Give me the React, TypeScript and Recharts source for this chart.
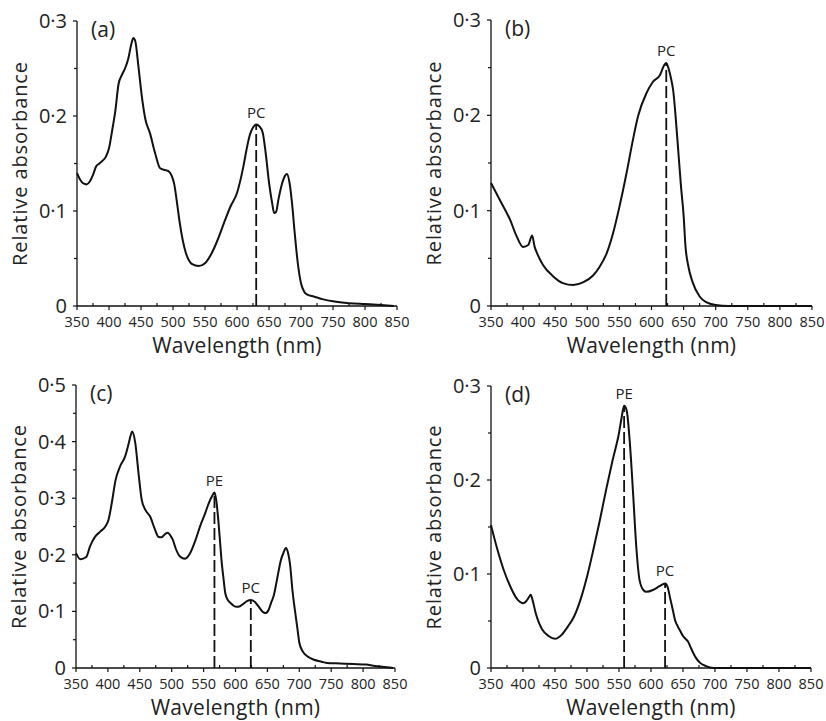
import React from "react";
import {
  Line,
  LineChart,
  ReferenceDot,
  ReferenceLine,
  XAxis,
  YAxis,
} from "recharts";

const FONT = "'Open Sans', 'Noto Sans', sans-serif";
const INK = "#111";

// (a)
const waveA = [350, 355, 360, 365, 370, 375, 380, 385, 390, 395, 400, 405, 410, 415, 420, 425, 430, 435, 438, 441, 446, 452, 457, 464, 472, 480, 488, 493, 498, 502, 506, 510, 515, 520, 525, 530, 540, 550, 560, 570, 580, 590, 600, 610, 615, 620, 625, 630, 635, 640, 645, 650, 655, 658, 661, 665, 670, 675, 678, 682, 686, 690, 695, 700, 705, 710, 720, 735, 750, 775, 800, 825, 845];
const absA = [0.14, 0.133, 0.129, 0.128, 0.131, 0.138, 0.147, 0.15, 0.153, 0.157, 0.166, 0.185, 0.206, 0.234, 0.243, 0.25, 0.26, 0.276, 0.282, 0.279, 0.252, 0.217, 0.196, 0.182, 0.161, 0.145, 0.143, 0.142, 0.137, 0.128, 0.11, 0.09, 0.07, 0.056, 0.048, 0.044, 0.042, 0.045, 0.055, 0.07, 0.088, 0.105, 0.119, 0.147, 0.165, 0.18, 0.188, 0.191, 0.189, 0.183, 0.16, 0.13, 0.108, 0.098, 0.099, 0.113, 0.128, 0.137, 0.139, 0.13, 0.108, 0.078, 0.045, 0.024, 0.015, 0.012, 0.01, 0.007, 0.005, 0.003, 0.002, 0.001, 0];
const peakNamesA = ["PC"];
const peakWavesA = [630];
const peakAbsA = [0.191];

// (b)
const waveB = [350, 364, 380, 390, 400, 408, 414, 418, 422, 431, 447, 462, 478, 494, 509, 519, 530, 540, 550, 561, 571, 579, 592, 602, 613, 620, 623, 627, 630, 634, 638, 642, 646, 650, 653, 657, 664, 675, 685, 700, 720, 850];
const absB = [0.129, 0.111, 0.09, 0.073, 0.062, 0.064, 0.074, 0.062, 0.055, 0.043, 0.031, 0.024, 0.022, 0.025, 0.032, 0.041, 0.055, 0.076, 0.104, 0.139, 0.174, 0.199, 0.223, 0.235, 0.242, 0.253, 0.255, 0.248, 0.24, 0.225, 0.195, 0.16, 0.125, 0.095, 0.062, 0.043, 0.025, 0.01, 0.004, 0.001, 0, 0];
const peakNamesB = ["PC"];
const peakWavesB = [623];
const peakAbsB = [0.255];

// (c)
const waveC = [350, 357, 366, 372, 380, 388, 396, 401, 406, 412, 419, 427, 432, 436, 438, 443, 448, 453, 459, 466, 474, 479, 484, 490, 494, 498, 502, 506, 513, 521, 529, 537, 545, 553, 558, 563, 567, 570, 573, 576, 578, 581, 584, 588, 592, 597, 602, 607, 612, 618, 624, 630, 636, 642, 647, 652, 656, 660, 664, 667, 671, 675, 679, 682, 686, 689, 693, 697, 700, 705, 709, 715, 722, 735, 743, 764, 785, 805, 816, 830, 847];
const absC = [0.203, 0.192, 0.196, 0.215, 0.232, 0.241, 0.25, 0.262, 0.291, 0.332, 0.356, 0.374, 0.394, 0.412, 0.418, 0.397, 0.344, 0.297, 0.279, 0.268, 0.244, 0.232, 0.231, 0.237, 0.239, 0.234, 0.226, 0.212, 0.197, 0.193, 0.203, 0.225, 0.252, 0.275, 0.291, 0.303, 0.31, 0.295, 0.262, 0.22, 0.191, 0.16, 0.132, 0.12, 0.115, 0.11, 0.108, 0.109, 0.113, 0.118, 0.12, 0.117, 0.109, 0.1, 0.097, 0.103, 0.116, 0.128, 0.15, 0.168, 0.19, 0.203, 0.212, 0.205, 0.178, 0.14, 0.103, 0.07, 0.045, 0.03, 0.024, 0.019, 0.015, 0.011, 0.009, 0.008, 0.007, 0.006, 0.004, 0.002, 0];
const peakNamesC = ["PE", "PC"];
const peakWavesC = [567, 624];
const peakAbsC = [0.31, 0.12];

// (d)
const waveD = [350, 360, 370, 380, 390, 400, 405, 409, 412, 415, 420, 425, 430, 440, 450, 460, 470, 480, 490, 500, 510, 520, 530, 540, 550, 554, 558, 562, 567, 572, 577, 582, 588, 593, 603, 613, 618, 622, 626, 630, 634, 638, 642, 646, 650, 654, 658, 662, 666, 671, 676, 686, 697, 850];
const absD = [0.152, 0.126, 0.104, 0.087, 0.074, 0.069, 0.071, 0.075, 0.078, 0.072, 0.058, 0.048, 0.041, 0.034, 0.031, 0.035, 0.044, 0.055, 0.073, 0.097, 0.126, 0.157, 0.19, 0.221, 0.25, 0.266, 0.279, 0.274, 0.239, 0.186, 0.129, 0.094, 0.083, 0.081, 0.083, 0.087, 0.089, 0.09, 0.086, 0.074, 0.062, 0.05, 0.044, 0.039, 0.034, 0.031, 0.028, 0.022, 0.016, 0.01, 0.006, 0.002, 0, 0];
const peakNamesD = ["PE", "PC"];
const peakWavesD = [558, 622];
const peakAbsD = [0.279, 0.09];

const xTicks = [350, 375, 400, 425, 450, 475, 500, 525, 550, 575, 600, 625, 650, 675, 700, 725, 750, 775, 800, 825, 850];
const yTicksLow = [0, 0.05, 0.1, 0.15, 0.2, 0.25, 0.3];
const yTicksHigh = [0, 0.05, 0.1, 0.15, 0.2, 0.25, 0.3, 0.35, 0.4, 0.45, 0.5];

function XTick(props: any) {
  const { x, y, payload } = props;
  const v = payload.value;
  const major = v % 50 === 0;
  return (
    <g>
      <line x1={x} x2={x} y1={y} y2={major ? y + 4 : y - 3} stroke={INK} strokeWidth={1.2} />
      {major && (
        <text x={x} y={y + 21} textAnchor="middle" fontSize={14.5} fill="#222" fontFamily={FONT}>
          {v}
        </text>
      )}
    </g>
  );
}

function YTick(props: any) {
  const { x, y, payload } = props;
  const v = payload.value;
  const tenth = Math.round(v * 10);
  const major = Math.abs(v * 10 - tenth) < 1e-6;
  return (
    <g>
      <line x1={x} x2={x - (major ? 4 : 3)} y1={y} y2={y} stroke={INK} strokeWidth={1.2} />
      {major && (
        <text x={x - 10} y={y + 7} textAnchor="end" fontSize={20} fill="#222" fontFamily={FONT}>
          {tenth === 0 ? "0" : `0·${tenth}`}
        </text>
      )}
    </g>
  );
}

type PanelProps = {
  letter: string;
  waves: number[];
  abs: number[];
  peakNames: string[];
  peakWaves: number[];
  peakAbs: number[];
  yMax: number;
  yTicks: number[];
  box: { left: number; top: number; width: number; height: number };
  plot: { top: number; right: number; bottom: number; left: number };
};

// plot = distances from the box edges to the plotting area
function Panel({ letter, waves, abs, peakNames, peakWaves, peakAbs, yMax, yTicks, box, plot }: PanelProps) {
  const data = waves.map((wl, i) => ({ wl, a: abs[i] }));
  const plotW = box.width - plot.left - plot.right;
  const plotH = box.height - plot.top - plot.bottom;
  // axes need 1px of room or recharts skips them
  const margin = { top: plot.top, right: plot.right, bottom: plot.bottom - 1, left: plot.left - 1 };
  return (
    <div style={{ position: "absolute", left: box.left, top: box.top }}>
      <LineChart
        width={box.width}
        height={box.height}
        data={data}
        margin={margin}
        style={{ overflow: "visible" }}
      >
        <XAxis
          dataKey="wl"
          type="number"
          domain={[350, 850]}
          ticks={xTicks}
          interval={0}
          height={1}
          tickSize={0}
          tickMargin={0}
          tickLine={false}
          axisLine={{ stroke: INK, strokeWidth: 1.3 }}
          tick={XTick}
        />
        <YAxis
          type="number"
          domain={[0, yMax]}
          ticks={yTicks}
          interval={0}
          width={1}
          tickSize={0}
          tickMargin={0}
          tickLine={false}
          axisLine={{ stroke: INK, strokeWidth: 1.3 }}
          tick={YTick}
        />
        {peakWaves.map((w, i) => (
          <ReferenceLine
            key={`l${i}`}
            segment={[
              { x: w, y: 0 },
              { x: w, y: peakAbs[i] },
            ]}
            stroke={INK}
            strokeWidth={1.8}
            strokeDasharray="12 4"
          />
        ))}
        <Line
          type="monotone"
          dataKey="a"
          stroke={INK}
          strokeWidth={2}
          dot={false}
          isAnimationActive={false}
        />
        {peakWaves.map((w, i) => (
          <ReferenceDot
            key={`d${i}`}
            x={w}
            y={peakAbs[i]}
            r={0}
            fill="none"
            stroke="none"
            label={{
              value: peakNames[i],
              position: "top",
              offset: 7,
              fontSize: 15,
              fill: "#222",
              fontFamily: FONT,
            }}
          />
        ))}
        <text x={plot.left + 14} y={plot.top + 16} fontSize={21} fill="#222" fontFamily={FONT}>
          ({letter})
        </text>
        <text
          x={plot.left + plotW / 2}
          y={plot.top + plotH + 47}
          textAnchor="middle"
          fontSize={21}
          letterSpacing={0.3}
          fill="#222"
          fontFamily={FONT}
        >
          Wavelength (nm)
        </text>
        <text
          x={plot.left - 50}
          y={plot.top + plotH / 2}
          transform={`rotate(-90 ${plot.left - 50} ${plot.top + plotH / 2})`}
          textAnchor="middle"
          fontSize={20}
          letterSpacing={0.9}
          fill="#222"
          fontFamily={FONT}
        >
          Relative absorbance
        </text>
      </LineChart>
    </div>
  );
}

export default function App() {
  return (
    <div style={{ position: "absolute", left: 0, top: 0, width: 826, height: 721, background: "#fff" }}>
      <Panel
        letter="a"
        waves={waveA}
        abs={absA}
        peakNames={peakNamesA}
        peakWaves={peakWavesA}
        peakAbs={peakAbsA}
        yMax={0.3}
        yTicks={yTicksLow}
        box={{ left: 0, top: 0, width: 413, height: 360 }}
        plot={{ top: 21, right: 16, bottom: 54, left: 77 }}
      />
      <Panel
        letter="b"
        waves={waveB}
        abs={absB}
        peakNames={peakNamesB}
        peakWaves={peakWavesB}
        peakAbs={peakAbsB}
        yMax={0.3}
        yTicks={yTicksLow}
        box={{ left: 413, top: 0, width: 413, height: 360 }}
        plot={{ top: 20, right: 14, bottom: 54, left: 78 }}
      />
      <Panel
        letter="c"
        waves={waveC}
        abs={absC}
        peakNames={peakNamesC}
        peakWaves={peakWavesC}
        peakAbs={peakAbsC}
        yMax={0.5}
        yTicks={yTicksHigh}
        box={{ left: 0, top: 360, width: 413, height: 361 }}
        plot={{ top: 25, right: 18, bottom: 53, left: 76 }}
      />
      <Panel
        letter="d"
        waves={waveD}
        abs={absD}
        peakNames={peakNamesD}
        peakWaves={peakWavesD}
        peakAbs={peakAbsD}
        yMax={0.3}
        yTicks={yTicksLow}
        box={{ left: 413, top: 360, width: 413, height: 361 }}
        plot={{ top: 26, right: 15, bottom: 53, left: 78 }}
      />
    </div>
  );
}
